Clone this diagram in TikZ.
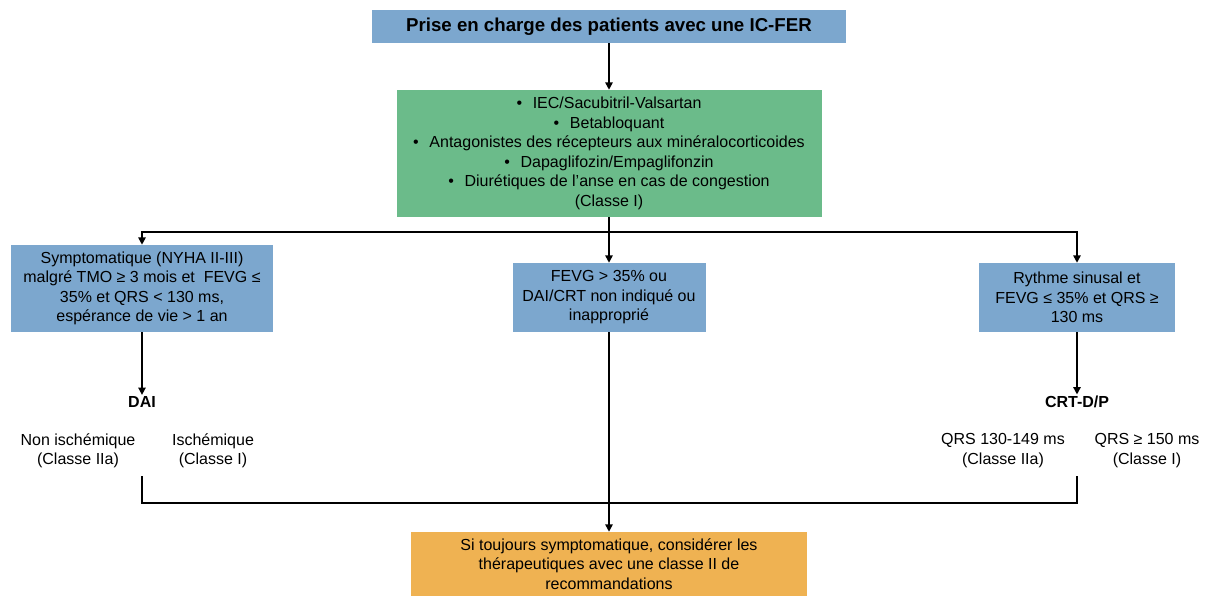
\documentclass[tikz,border=0pt]{standalone}
\usepackage{fontspec}
\setmainfont{Liberation Sans}
\usetikzlibrary{arrows.meta}
\definecolor{boxblue}{RGB}{124,167,206}
\definecolor{boxgreen}{RGB}{107,187,138}
\definecolor{boxorange}{RGB}{239,178,82}
\begin{document}
\begin{tikzpicture}[x=0.75pt,y=-0.75pt,
  box/.style={draw=none, align=center, inner sep=0pt, font=\fontsize{12}{14.6}\selectfont},
  conn/.style={line width=1.2pt, draw=black},
  arr/.style={conn, -{Triangle[width=5.5pt,length=5.5pt]}},
  lbl/.style={align=center, inner sep=1pt, font=\fontsize{12}{14.6}\selectfont},
  blbl/.style={align=center, inner sep=1pt, font=\fontsize{12}{14.6}\selectfont\bfseries}]
\useasboundingbox (0,0) rectangle (1207,596);

\node[box, fill=boxblue, minimum width=355.5pt, minimum height=24.75pt,
      font=\fontsize{14}{16}\selectfont\bfseries] (top) at (609,26.5)
  {Prise en charge des patients avec une IC-FER};

\node[box, fill=boxgreen, minimum width=318.75pt, minimum height=95.25pt] (green) at (609,153.5)
  {•\hspace{8pt}IEC/Sacubitril-Valsartan\\
   •\hspace{8pt}Betabloquant\\
   •\hspace{8pt}Antagonistes des récepteurs aux minéralocorticoides\\
   •\hspace{8pt}Dapaglifozin/Empaglifonzin\\
   •\hspace{8pt}Diurétiques de l’anse en cas de congestion\\
   (Classe I)};

\node[box, fill=boxblue, minimum width=196.5pt, minimum height=65.25pt] (left) at (142,288.5)
  {Symptomatique (NYHA II-III)\\
   malgré TMO ≥ 3 mois et \ FEVG ≤\\
   35\% et QRS < 130 ms,\\
   espérance de vie > 1 an};

\node[box, fill=boxblue, minimum width=144.75pt, minimum height=51.75pt] (mid) at (609,297.5)
  {FEVG > 35\% ou\\
   DAI/CRT non indiqué ou\\
   inapproprié};

\node[box, fill=boxblue, minimum width=147pt, minimum height=51.75pt] (right) at (1077,297.5)
  {Rythme sinusal et\\
   FEVG ≤ 35\% et QRS ≥\\
   130 ms};

\node[box, fill=boxorange, minimum width=297pt, minimum height=48pt] (orange) at (609,564)
  {Si toujours symptomatique, considérer les\\
   thérapeutiques avec une classe II de\\
   recommandations};

\node[blbl] (dai) at (142,402) {DAI};
\node[lbl] (nonisch) at (78,450.5) {Non ischémique\\(Classe IIa)};
\node[lbl] (isch) at (213,450.5) {Ischémique\\(Classe I)};
\node[blbl] (crt) at (1077,402) {CRT-D/P};
\node[lbl] (qrsa) at (1003,450.5) {QRS 130-149 ms\\(Classe IIa)};
\node[lbl] (qrsb) at (1147,450.5) {QRS ≥ 150 ms\\(Classe I)};

\coordinate (jtop) at (609,232);
\coordinate (bl) at (142,476);
\coordinate (br) at (1077,476);
\coordinate (jbot) at (609,503);

\draw[arr] (top) -- (green);
\draw[conn] (green.south) -- (jtop);
\draw[arr] (jtop) -| (left.north);
\draw[arr] (jtop) -| (right.north);
\draw[arr] (jtop) -- (mid.north);
\draw[arr] (left.south) -- (dai.north);
\draw[arr] (right.south) -- (crt.north);
\draw[conn] (bl) |- (jbot) -| (br);
\draw[arr] (mid.south) -- (orange.north);
\end{tikzpicture}
\end{document}
